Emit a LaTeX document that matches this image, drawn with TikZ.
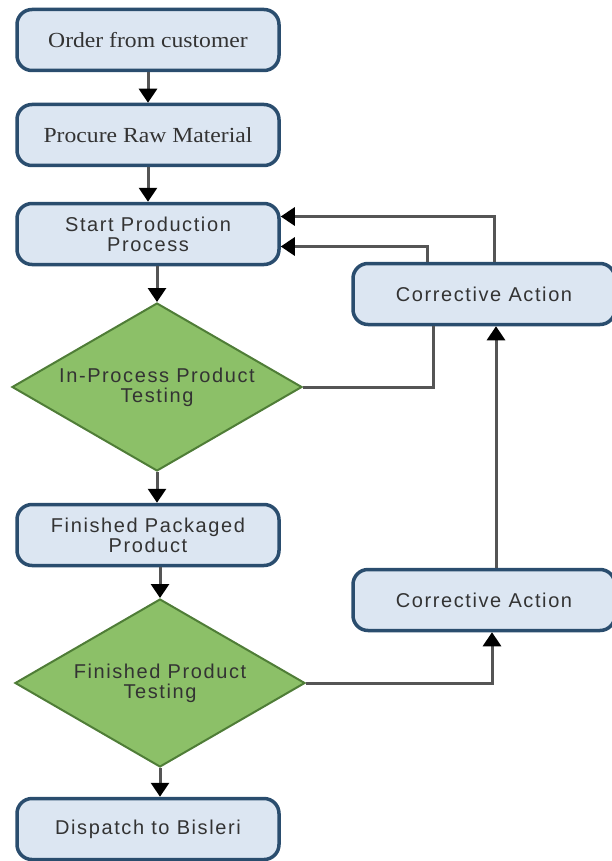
\documentclass[tikz,border=0pt]{standalone}
\usepackage{fontspec}
\setmainfont{Liberation Serif}
\newfontfamily\serifface[FakeStretch=1.1]{Liberation Serif}
\newfontfamily\boxface[LetterSpace=8]{Liberation Sans}
\usetikzlibrary{positioning,arrows.meta,shapes.geometric}
\definecolor{boxfill}{HTML}{DCE6F2}
\definecolor{boxline}{HTML}{2A4D6E}
\definecolor{testfill}{HTML}{8CC068}
\definecolor{testline}{HTML}{4F7D37}
\definecolor{linkgray}{HTML}{555555}
\tikzset{
flow/.style={
    x=1pt,
    y=-1pt,
    >={Triangle[width=18pt,length=14pt,color=black]}
},
box/.style={
    rectangle,
    rounded corners=15pt,
    draw=boxline,
    line width=3.5pt,
    fill=boxfill,
    minimum width=262pt,
    minimum height=61pt,
    align=center,
    text=black!80,
    font=\boxface\fontsize{20}{20}\selectfont
},
plainbox/.style={
    box,
    font=\serifface\fontsize{21.5}{22}\selectfont
},
decision/.style={
    diamond,
    aspect=1.73,
    draw=testline,
    line width=2pt,
    fill=testfill,
    minimum width=290pt,
    minimum height=168pt,
    inner sep=0pt,
    align=center,
    text=black!80,
    font=\boxface\fontsize{20}{20}\selectfont
},
link/.style={
    ->,
    draw=linkgray,
    line width=3pt
},
joint/.style={
    draw=linkgray,
    line width=3pt
}}

\begin{document}
\begin{tikzpicture}[flow]
\useasboundingbox (0,0) rectangle (612,861);

\node[plainbox] (order)    at (148,40)    {Order from customer};
\node[plainbox] (procure)  [below of=order, node distance=95pt]    {Procure Raw Material};
\node[box]      (start)    [below of=procure, node distance=99pt]  {Start Production\\Process};
\node[decision] (inproc)   [below of=start, node distance=153pt, xshift=9pt]     {In-Process Product\\Testing};
\node[box]      (packed)   [below of=inproc, node distance=148pt, xshift=-9pt]   {Finished Packaged\\Product};
\node[decision] (final)    [below of=packed, node distance=148pt, xshift=12pt]   {Finished Product\\Testing};
\node[box]      (dispatch) [below of=final, node distance=146pt, xshift=-12pt]   {Dispatch to Bisleri};
\node[box]      (fixup)    at (484,294)   {Corrective Action};
\node[box]      (fixdown)  at (484,600)   {Corrective Action};

\path    (order)    edge[link]    (procure);
\path    (procure)  edge[link]    (start);
\path    (start.south -| inproc.north)    edge[link]    (inproc.north);
\path    (inproc.south)    edge[link]    (inproc.south |- packed.north);
\path    (packed.south -| final.north)    edge[link]    (final.north);
\path    (final.south)     edge[link]    (final.south |- dispatch.north);
\path    ([xshift=12pt]fixdown.north)     edge[link]    ([xshift=12pt]fixup.south);

% loops back from the corrective actions
\draw[joint]    (inproc.east) -| ([xshift=-51pt]fixup.south);
\draw[link]     ([xshift=-57pt]fixup.north) |- ([yshift=-12.5pt]start.east);
\draw[link]     ([xshift=10pt]fixup.north) |- ([yshift=17.5pt]start.east);
\draw[link]     (final.east) -| ([xshift=8pt]fixdown.south);
\end{tikzpicture}
\end{document}
